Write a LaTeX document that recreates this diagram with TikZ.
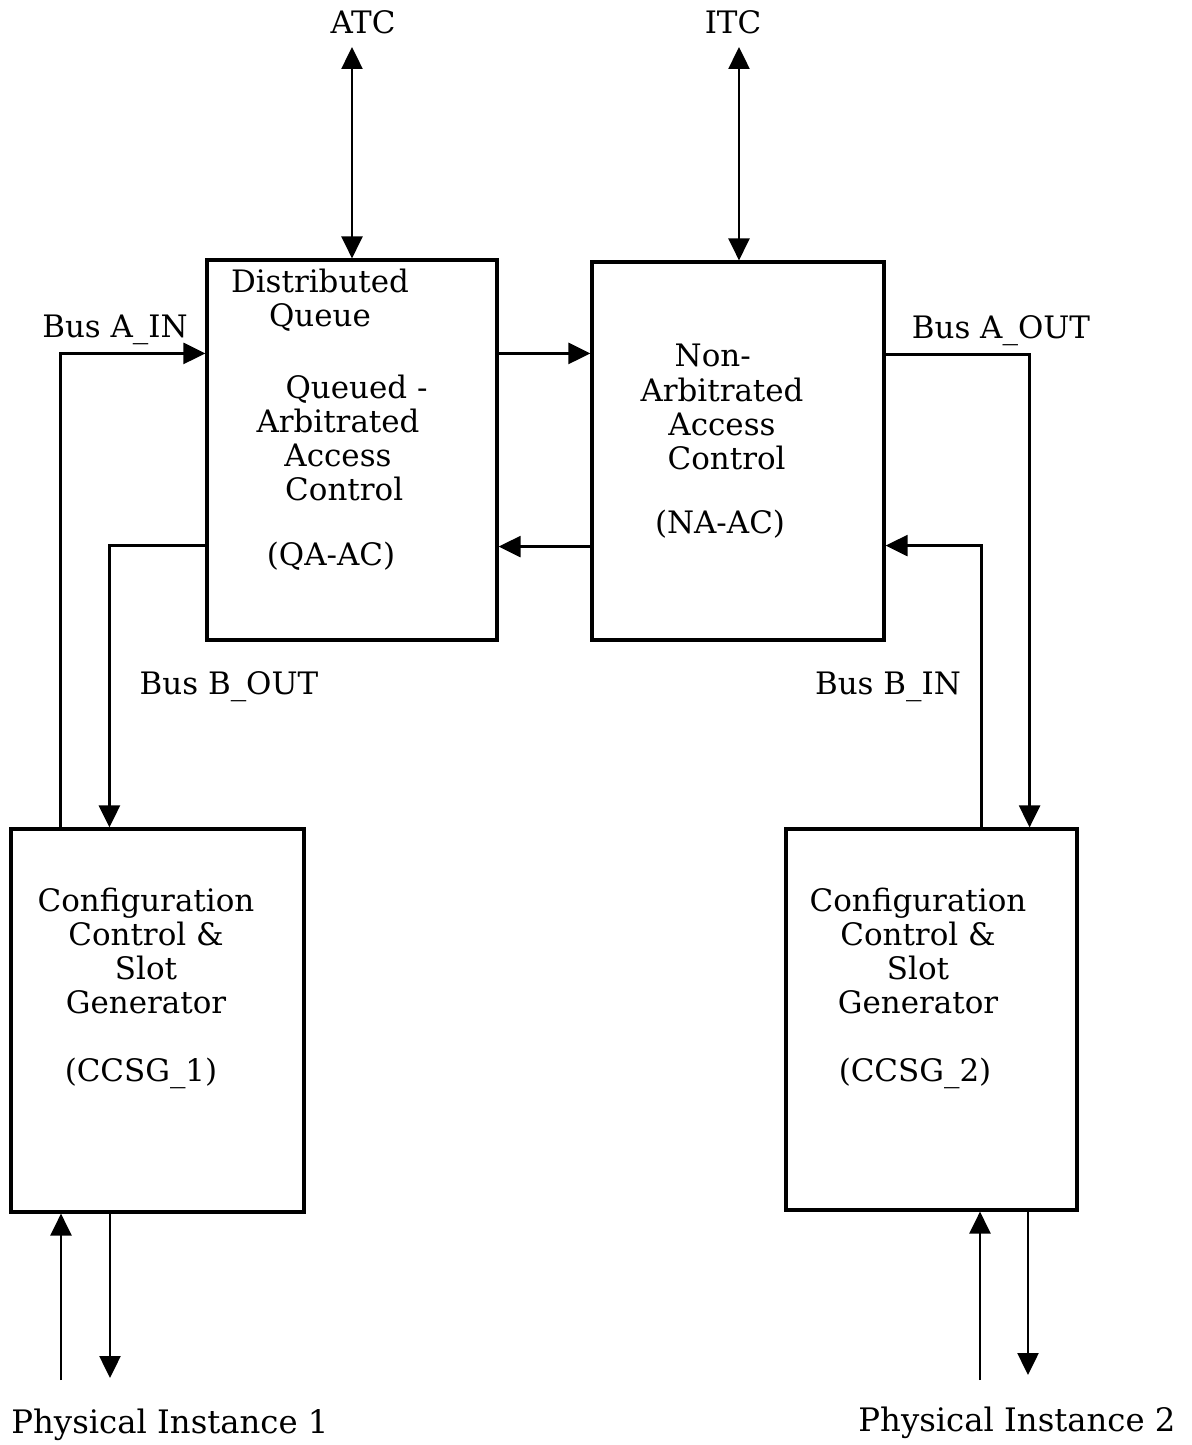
\documentclass[tikz,border=0pt]{standalone}
\usepackage{fontspec}
\setmainfont{DejaVu Serif}
\usetikzlibrary{arrows.meta}

\begin{document}
\begin{tikzpicture}[x=0.1mm,y=-0.1mm,
    block/.style={draw, line width=0.9pt, inner sep=0pt},
    txt/.style={align=center, font=\fontsize{8.8}{9.7}\selectfont},
    arr/.style={-{Triangle[length=2.2mm,width=2.1mm]}, line width=0.7pt},
    darr/.style={{Triangle[length=2.2mm,width=2.1mm]}-{Triangle[length=2.2mm,width=2.1mm]}, line width=0.7pt}]
    % Frame: 1192 x 1445 units, y grows downwards like the scan.
    \useasboundingbox (0,0) rectangle (1192,1445);

    % The four blocks
    \node[block, minimum width=29mm, minimum height=38mm] (qa) at (352,450) {};
    \node[block, minimum width=29.2mm, minimum height=37.8mm] (na) at (738,451) {};
    \node[block, minimum width=29.3mm, minimum height=38.3mm] (ccsg1) at (157.5,1020.5) {};
    \node[block, minimum width=29.1mm, minimum height=38.1mm] (ccsg2) at (931.5,1019.5) {};

    % Block texts
    \node[txt] (qaname) at (320,300) {Distributed\\Queue};
    \node[txt] (qadesc) at (338,438) {\hspace*{1.2em}Queued -\\Arbitrated\\Access\\\hspace*{0.4em}Control};
    \node[txt] (qaabbr) at (331,556) {(QA-AC)};
    \node[txt] (nadesc) at (722,407) {Non-\hspace*{0.6em}\\Arbitrated\\Access\\\hspace*{0.3em}Control};
    \node[txt] (naabbr) at (720,524) {(NA-AC)};
    \node[txt] (c1desc) at (146,951) {Configuration\\Control \&\\Slot\\Generator};
    \node[txt] (c1abbr) at (141,1073) {(CCSG\_1)};
    \node[txt] (c2desc) at (918,951) {Configuration\\Control \&\\Slot\\Generator};
    \node[txt] (c2abbr) at (915,1073) {(CCSG\_2)};

    % Outer labels
    \node[txt] (atc) at (363,22) {ATC};
    \node[txt] (itc) at (733,22) {ITC};
    \node[txt] (ain) at (115,330) {Bus A\_IN};
    \node[txt] (aout) at (1001,331) {Bus A\_OUT};
    \node[txt] (bout) at (229,687) {Bus B\_OUT};
    \node[txt] (bin) at (888,687) {Bus B\_IN};
    \node[txt, font=\fontsize{9.2}{10}\selectfont] (pi1) at (170,1425) {Physical Instance 1};
    \node[txt, font=\fontsize{9.2}{10}\selectfont] (pi2) at (1017,1423) {Physical Instance 2};

    % Free ends of the lines at the bottom
    \coordinate (in1) at (61,1380);
    \coordinate (out1) at (110,1378);
    \coordinate (in2) at (980,1380);
    \coordinate (out2) at (1028,1375);

    % Connections to the top
    \draw[darr] (qa.north) -- (qa.north |- 0,47);
    \draw[darr] ([xshift=0.1mm]na.north) -- ([xshift=0.1mm]na.north |- 0,47);

    % Between the access controls
    \draw[arr] ([yshift=-9.5mm]qa.north east) -- ([yshift=-9.5mm]qa.north east -| na.west);
    \draw[arr] ([yshift=9.5mm]na.south west) -- ([yshift=9.5mm]na.south west -| qa.east);

    % Buses
    \draw[arr] ([xshift=5.1mm]ccsg1.north west) |- ([yshift=-9.5mm]qa.north west);
    \draw[arr] ([yshift=9.6mm]qa.south west) -| ([xshift=10mm]ccsg1.north west);
    \draw[arr] ([yshift=-9.4mm]na.north east) -| ([xshift=-4.9mm]ccsg2.north east);
    \draw[arr] ([xshift=-9.7mm]ccsg2.north east) |- ([yshift=9.6mm]na.south east);

    % Physical instances
    \draw[arr] (in1) -- (in1 |- ccsg1.south);
    \draw[arr] (out1 |- ccsg1.south) -- (out1);
    \draw[arr] (in2) -- (in2 |- ccsg2.south);
    \draw[arr] (out2 |- ccsg2.south) -- (out2);
  \end{tikzpicture}
\end{document}
